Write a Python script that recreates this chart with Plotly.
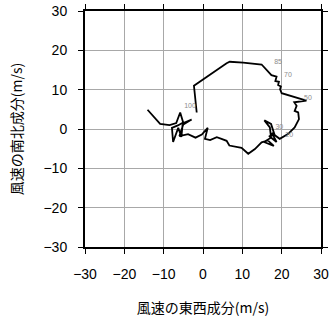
import plotly.graph_objects as go

# Hodograph: east-west (u) and north-south (v) wind components (m/s)
u = [-14.1, -10.9, -8.5, -6.8, -5.8, -5.0, -2.9, -5.2, -5.5, -6.3, -7.6, -7.9, -6.4, -4.8,
     -6.0, -3.8, -1.9, -0.3, 1.2, 0.5, 1.8, 3.5, 4.7, 6.0, 6.7, 8.1, 9.8, 11.5, 13.2, 14.9,
     16.5, 18.0, 15.5, 17.3, 17.0, 15.6, 17.3, 18.2, 16.8, 18.7, 17.5, 19.5, 21.6, 23.3, 24.4,
     24.2, 23.3, 23.8, 23.2, 26.3, 21.6, 20.0, 19.6, 19.8, 19.1, 19.3, 18.4, 18.7, 17.4, 14.9,
     10.2, 6.8, 6.0, -2.3, -1.6]
v = [4.9, 1.3, 1.0, 1.5, 4.2, 1.5, 2.4, 1.0, -2.0, 0.3, -3.3, 0.3, 0.9, 1.8,
     -1.8, -1.3, -2.2, -1.4, 0.3, -2.5, -2.8, -2.1, -2.5, -3.0, -4.2, -4.5, -4.8, -6.3, -5.1, -3.4,
     -2.9, -4.3, -3.3, -2.2, 0.4, 2.2, 1.3, -1.5, -1.8, -3.3, -1.0, -2.5, -1.3, 0.4, 2.5,
     4.2, 4.6, 5.9, 6.8, 7.2, 8.6, 9.1, 10.1, 10.8, 11.2, 12.0, 12.2, 13.3, 13.7, 16.4,
     16.9, 17.1, 16.7, 11.0, 4.2]

label_u = [21.9, 19.4, 26.7, 21.6, 19.1, -3.3]
label_v = [-1.6, 0.4, 7.9, 13.6, 16.9, 5.7]
label_text = ["20", "30", "50", "70", "85", "100"]

tick_vals = [-30, -20, -10, 0, 10, 20, 30]
tick_text = ["\u221230", "\u221220", "\u221210", "0", "10", "20", "30"]

fig = go.Figure()
fig.add_trace(go.Scatter(x=u, y=v, mode="lines",
                         line=dict(color="black", width=1.8), hoverinfo="skip"))
fig.add_trace(go.Scatter(x=label_u, y=label_v, mode="text", text=label_text,
                         textfont=dict(size=7, color="#8c8c8c", family="Liberation Sans"),
                         hoverinfo="skip"))

axis_common = dict(range=[-30, 30], tickvals=tick_vals, ticktext=tick_text,
                   showgrid=True, gridcolor="#a8a8a8", gridwidth=1,
                   zeroline=False, showline=True, linecolor="black", linewidth=2,
                   mirror="ticks", ticks="outside", ticklen=5, tickcolor="black",
                   tickwidth=1, ticklabelstandoff=8, automargin=False,
                   tickfont=dict(size=14, color="black", family="Liberation Sans"))

fig.update_layout(
    width=331, height=318,
    margin=dict(l=85, r=10, t=11, b=71),
    paper_bgcolor="white", plot_bgcolor="white",
    showlegend=False,
    xaxis=dict(**axis_common,
               title=dict(text="風速の東西成分(m/s)", standoff=22,
                          font=dict(size=14, color="black",
                                    family="Noto Sans CJK JP"))),
    yaxis=dict(**axis_common,
               title=dict(text="風速の南北成分(m/s)", standoff=18,
                          font=dict(size=14, color="black",
                                    family="Noto Sans CJK JP"))),
)

fig.write_html("out.html")
